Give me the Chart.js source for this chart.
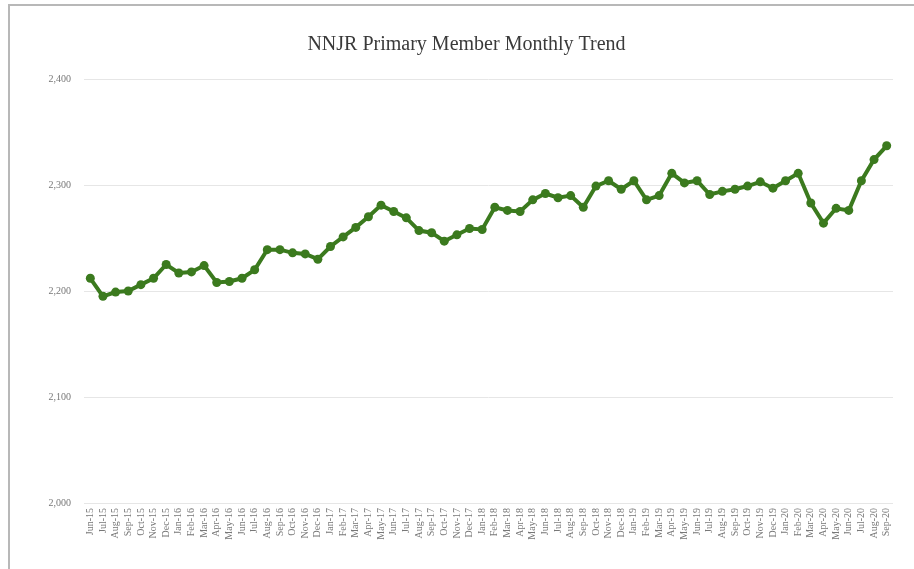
<!DOCTYPE html>
<html>
<head>
<meta charset="utf-8">
<script src="https://cdn.jsdelivr.net/npm/chart.js@4"></script>
<style>
  body { margin: 0; background: #fff; }
  #frame { position: absolute; left: 8px; top: 4px; width: 906px; height: 565px;
           border-left: 2px solid #b8b8b8; border-top: 2px solid #b8b8b8; pointer-events: none; }
  canvas { position: absolute; left: 0; top: 0; }
</style>
</head>
<body>
<canvas id="trend" width="914" height="569"></canvas>
<div id="frame"></div>
<script>
// Monthly labels Jun-15 .. Sep-20
const months = [
    'Jun-15','Jul-15','Aug-15','Sep-15','Oct-15','Nov-15','Dec-15',
    'Jan-16','Feb-16','Mar-16','Apr-16','May-16','Jun-16','Jul-16','Aug-16','Sep-16','Oct-16','Nov-16','Dec-16',
    'Jan-17','Feb-17','Mar-17','Apr-17','May-17','Jun-17','Jul-17','Aug-17','Sep-17','Oct-17','Nov-17','Dec-17',
    'Jan-18','Feb-18','Mar-18','Apr-18','May-18','Jun-18','Jul-18','Aug-18','Sep-18','Oct-18','Nov-18','Dec-18',
    'Jan-19','Feb-19','Mar-19','Apr-19','May-19','Jun-19','Jul-19','Aug-19','Sep-19','Oct-19','Nov-19','Dec-19',
    'Jan-20','Feb-20','Mar-20','Apr-20','May-20','Jun-20','Jul-20','Aug-20','Sep-20'
];

// Primary members per month
const members = [
    2212, 2195, 2199, 2200, 2206, 2212, 2225,
    2217, 2218, 2224, 2208, 2209, 2212, 2220, 2239, 2239, 2236, 2235, 2230,
    2242, 2251, 2260, 2270, 2281, 2275, 2269, 2257, 2255, 2247, 2253, 2259,
    2258, 2279, 2276, 2275, 2286, 2292, 2288, 2290, 2279, 2299, 2304, 2296,
    2304, 2286, 2290, 2311, 2302, 2304, 2291, 2294, 2296, 2299, 2303, 2297,
    2304, 2311, 2283, 2264, 2278, 2276, 2304, 2324, 2337
];

const yTicks = [2000, 2100, 2200, 2300, 2400];

const serif = '"Liberation Serif", "DejaVu Serif", serif';
const lineColor = '#3b7a1e';

new Chart(document.getElementById('trend').getContext('2d'), {
    type: 'line',
    data: {
        labels: months,
        datasets: [{
            label: 'Primary Members',
            data: members,
            borderColor: lineColor,
            backgroundColor: lineColor,
            borderWidth: 4,
            pointRadius: 4.5,
            pointBackgroundColor: lineColor,
            pointBorderWidth: 0,
            tension: 0
        }]
    },
    options: {
        responsive: false,
        animation: false,
        layout: { padding: { left: 40, right: 21, top: 0, bottom: 0 } },
        plugins: {
            legend: { display: false },
            tooltip: { enabled: false },
            title: {
                display: true,
                text: 'NNJR Primary Member Monthly Trend',
                color: '#3a3a3a',
                font: { family: serif, size: 20, weight: 'normal' },
                padding: { top: 33, bottom: 22 }
            }
        },
        scales: {
            x: {
                offset: true,
                grid: { display: false },
                border: { display: false },
                ticks: {
                    autoSkip: false,
                    maxRotation: 90,
                    minRotation: 90,
                    color: '#777',
                    font: { family: serif, size: 10 },
                    padding: -3
                },
                afterFit: s => { s.height = 66; }
            },
            y: {
                min: yTicks[0],
                max: yTicks[yTicks.length - 1],
                afterBuildTicks: s => { s.ticks = yTicks.map(v => ({ value: v })); },
                grid: { color: '#e6e6e6', drawTicks: false },
                border: { display: false },
                ticks: {
                    color: '#777',
                    font: { family: serif, size: 10 },
                    padding: 13,
                    callback: v => v.toLocaleString('en-US')
                },
                afterFit: s => { s.width = 44; }
            }
        }
    }
});
</script>
</body>
</html>
